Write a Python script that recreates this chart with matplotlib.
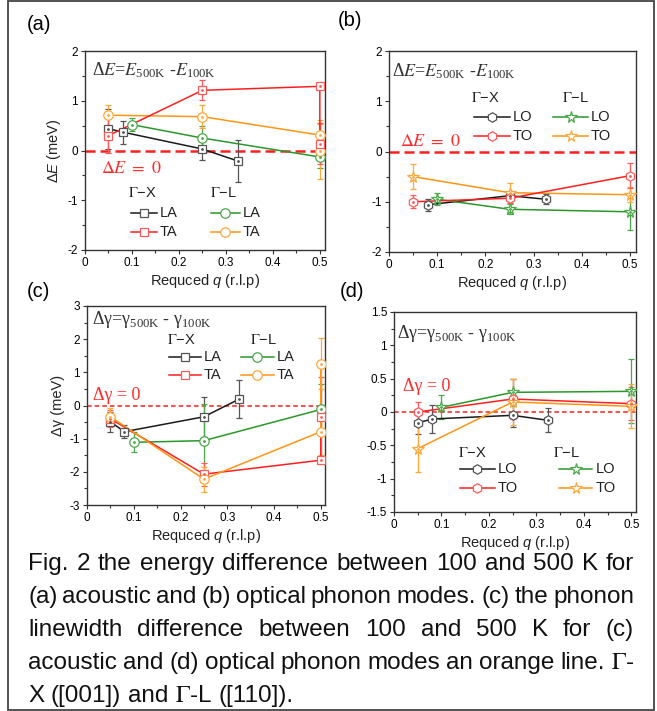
import matplotlib
matplotlib.use("Agg")
import matplotlib.pyplot as plt
from matplotlib.patches import Rectangle
from matplotlib.ticker import MultipleLocator, FormatStrFormatter

plt.rcParams['font.family'] = ['Liberation Sans', 'DejaVu Sans']
plt.rcParams['mathtext.fontset'] = 'custom'
plt.rcParams['mathtext.rm'] = 'Liberation Sans'
plt.rcParams['mathtext.it'] = 'Liberation Sans:italic'
plt.rcParams['axes.unicode_minus'] = False

# ---- data ----
# (a) energy shift, acoustic modes
a_gx_la_q = [0.05, 0.08, 0.25, 0.325]
a_gx_la_v = [0.44, 0.37, 0.03, -0.21]
a_gx_la_e = [0.40, 0.23, 0.22, 0.43]
a_gx_ta_q = [0.05, 0.25, 0.5, 0.5]
a_gx_ta_v = [0.30, 1.21, 1.29, 0.14]
a_gx_ta_e = [0.36, 0.20, 0.05, 0.42]
a_gl_la_q = [0.1, 0.25, 0.5]
a_gl_la_v = [0.52, 0.25, -0.13]
a_gl_la_e = [0.13, 0.25, 0.22]
a_gl_ta_q = [0.05, 0.25, 0.5, 0.5]
a_gl_ta_v = [0.71, 0.68, 0.31, -0.02]
a_gl_ta_e = [0.20, 0.23, 0.30, 0.55]

# (b) energy shift, optical modes
b_gx_lo_q = [0.08, 0.25, 0.325]
b_gx_lo_v = [-1.06, -0.88, -0.95]
b_gx_lo_e = [0.12, 0.10, 0.10]
b_gx_to_q = [0.05, 0.25, 0.5]
b_gx_to_v = [-1.00, -0.93, -0.48]
b_gx_to_e = [0.13, 0.10, 0.25]
b_gl_lo_q = [0.1, 0.25, 0.5]
b_gl_lo_v = [-0.95, -1.15, -1.20]
b_gl_lo_e = [0.12, 0.10, 0.37]
b_gl_to_q = [0.05, 0.25, 0.5]
b_gl_to_v = [-0.50, -0.82, -0.86]
b_gl_to_e = [0.25, 0.20, 0.15]

# (c) linewidth change, acoustic modes
c_gx_la_q = [0.05, 0.08, 0.25, 0.325]
c_gx_la_v = [-0.49, -0.79, -0.34, 0.19]
c_gx_la_e = [0.30, 0.20, 0.60, 0.57]
c_gx_ta_q = [0.05, 0.25, 0.5, 0.5]
c_gx_ta_v = [-0.40, -2.07, -1.65, -0.34]
c_gx_ta_e = [0.25, 0.35, 0.05, 1.20]
c_gl_la_q = [0.1, 0.25, 0.5]
c_gl_la_v = [-1.11, -1.06, -0.12]
c_gl_la_e = [0.30, 1.10, 0.76]
c_gl_ta_q = [0.05, 0.25, 0.5, 0.5]
c_gl_ta_v = [-0.34, -2.22, -0.79, 1.26]
c_gl_ta_e = [0.25, 0.38, 0.70, 0.77]

# (d) linewidth change, optical modes
d_gx_lo_q = [0.05, 0.08, 0.25, 0.325]
d_gx_lo_v = [-0.165, -0.105, -0.05, -0.125]
d_gx_lo_e = [0.17, 0.21, 0.17, 0.18]
d_gx_to_q = [0.05, 0.25, 0.5]
d_gx_to_v = [0.0, 0.195, 0.125]
d_gx_to_e = [0.15, 0.30, 0.25]
d_gl_lo_q = [0.1, 0.25, 0.5]
d_gl_lo_v = [0.07, 0.295, 0.31]
d_gl_lo_e = [0.18, 0.20, 0.48]
d_gl_to_q = [0.05, 0.25, 0.5]
d_gl_to_v = [-0.55, 0.15, 0.085]
d_gl_to_e = [0.35, 0.35, 0.33]

caption = [
    "Fig. 2 the energy difference between 100 and 500 K for",
    "(a) acoustic and (b) optical phonon modes. (c) the phonon",
    "linewidth difference between 100 and 500 K for (c)",
    "acoustic and (d) optical phonon modes an orange line. $\\Gamma$-",
    "X ([001]) and $\\Gamma$-L ([110]).",
]

# colours: (line, marker/errorbar)
BLACK = ('#1a1a1a', '#555555')
RED = ('#ff1f1f', '#ff5a5a')
GREEN = ('#2b962b', '#4aa84a')
ORANGE = ('#ff9515', '#ffa83a')

W, H = 657, 711
fig = plt.figure(figsize=(W / 100, H / 100), dpi=100)


def px_axes(l, t, r, b):
    return fig.add_axes([l / W, 1 - b / H, (r - l) / W, (b - t) / H])


def series(ax, q, v, e, col, marker, ms):
    ax.errorbar(q, v, yerr=e, fmt='none', ecolor=col[1], elinewidth=0.9,
                capsize=2.5, capthick=0.9, zorder=2)
    ax.plot(q, v, '-', color=col[0], lw=1.1, zorder=3)
    ax.plot(q, v, ls='none', marker=marker, ms=ms, mfc='white', mec=col[1],
            mew=0.9, zorder=4)
    ax.plot(q, v, ls='none', marker='o', ms=1.0, color=col[1], zorder=5)


def legend_row(ax, x0, y, col, marker, ms, label, length=0.13):
    ax.plot([x0, x0 + length], [y, y], transform=ax.transAxes, color=col[0],
            lw=1.1, clip_on=False)
    ax.plot([x0 + length / 2], [y], transform=ax.transAxes, marker=marker,
            ms=ms, mfc='white', mec=col[1], mew=0.9, clip_on=False)
    ax.text(x0 + length + 0.012, y, label, transform=ax.transAxes,
            va='center', ha='left', fontsize=10.5, color='#222222')


def style(ax, ylim, ymaj, ymin, xlim):
    ax.set_xlim(*xlim)
    ax.set_ylim(*ylim)
    ax.xaxis.set_major_locator(MultipleLocator(0.1))
    ax.xaxis.set_minor_locator(MultipleLocator(0.05))
    ax.yaxis.set_major_locator(MultipleLocator(ymaj))
    ax.yaxis.set_minor_locator(MultipleLocator(ymin))
    ax.xaxis.set_major_formatter(FormatStrFormatter('%g'))
    ax.yaxis.set_major_formatter(FormatStrFormatter('%g'))
    ax.tick_params(which='both', direction='out', labelsize=8.5,
                   color='#333333', width=0.8, pad=2)
    ax.tick_params(which='major', length=3)
    ax.tick_params(which='minor', length=2)
    for s in ax.spines.values():
        s.set_color('#333333')
        s.set_linewidth(1.0)
    ax.set_xlabel('Requced $\\it{q}$ (r.l.p)', fontsize=10.5, labelpad=2,
                  color='#222222')


def zero_line(ax, lw, dashes):
    ax.axhline(0, color='#ff1f1f', lw=lw, dashes=dashes, zorder=1)


# ---------- (a) ----------
ax = px_axes(85, 51, 325, 250)
style(ax, (-2, 2), 1, 0.5, (0, 0.511))
zero_line(ax, 1.8, (4, 2))
series(ax, a_gx_la_q, a_gx_la_v, a_gx_la_e, BLACK, 's', 5.5)
series(ax, a_gl_la_q, a_gl_la_v, a_gl_la_e, GREEN, 'o', 6.8)
series(ax, a_gl_ta_q, a_gl_ta_v, a_gl_ta_e, ORANGE, 'o', 6.8)
series(ax, a_gx_ta_q, a_gx_ta_v, a_gx_ta_e, RED, 's', 5.5)
ax.set_ylabel('Δ$\\it{E}$ (meV)', fontsize=10.5, labelpad=3, color='#222222')
ax.text(0.03, 0.905, 'Δ$E$=$E_{\\mathregular{500K}}$ -$E_{\\mathregular{100K}}$',
        transform=ax.transAxes, fontsize=13, family='Liberation Serif',
        math_fontfamily='stix', va='center', color='#333333')
ax.text(0.065, 0.41, '$\\Delta E\\ =\\ 0$', transform=ax.transAxes,
        fontsize=13, math_fontfamily='stix', va='center', color='#ff2a2a')
ax.text(0.18, 0.286, '$\\Gamma$−X', transform=ax.transAxes, fontsize=10.5,
        math_fontfamily='stix', va='center', color='#222222')
ax.text(0.52, 0.286, '$\\Gamma$−L', transform=ax.transAxes, fontsize=10.5,
        math_fontfamily='stix', va='center', color='#222222')
legend_row(ax, 0.19, 0.186, BLACK, 's', 5.5, 'LA', 0.11)
legend_row(ax, 0.19, 0.09, RED, 's', 5.5, 'TA', 0.11)
legend_row(ax, 0.525, 0.186, GREEN, 'o', 6.8, 'LA', 0.12)
legend_row(ax, 0.525, 0.09, ORANGE, 'o', 6.8, 'TA', 0.12)

# ---------- (b) ----------
ax = px_axes(389, 51, 636, 252)
style(ax, (-2, 2), 1, 0.5, (0, 0.512))
zero_line(ax, 1.8, (4, 2))
series(ax, b_gx_lo_q, b_gx_lo_v, b_gx_lo_e, BLACK, 'h', 6.8)
series(ax, b_gl_lo_q, b_gl_lo_v, b_gl_lo_e, GREEN, '*', 8.5)
series(ax, b_gl_to_q, b_gl_to_v, b_gl_to_e, ORANGE, '*', 8.5)
series(ax, b_gx_to_q, b_gx_to_v, b_gx_to_e, RED, 'h', 6.8)
ax.text(0.012, 0.90, 'Δ$E$=$E_{\\mathregular{500K}}$ -$E_{\\mathregular{100K}}$',
        transform=ax.transAxes, fontsize=13, family='Liberation Serif',
        math_fontfamily='stix', va='center', color='#333333')
ax.text(0.045, 0.55, '$\\Delta E\\ =\\ 0$', transform=ax.transAxes,
        fontsize=13, math_fontfamily='stix', va='center', color='#ff2a2a')
ax.text(0.33, 0.766, '$\\Gamma$−X', transform=ax.transAxes, fontsize=10.5,
        math_fontfamily='stix', va='center', color='#222222')
ax.text(0.70, 0.766, '$\\Gamma$−L', transform=ax.transAxes, fontsize=10.5,
        math_fontfamily='stix', va='center', color='#222222')
legend_row(ax, 0.345, 0.67, BLACK, 'h', 6.8, 'LO', 0.145)
legend_row(ax, 0.345, 0.577, RED, 'h', 6.8, 'TO', 0.145)
legend_row(ax, 0.665, 0.67, GREEN, '*', 8.5, 'LO', 0.14)
legend_row(ax, 0.665, 0.577, ORANGE, '*', 8.5, 'TO', 0.14)

# ---------- (c) ----------
ax = px_axes(87, 306, 325, 505)
style(ax, (-3, 3), 1, 0.5, (0, 0.509))
zero_line(ax, 1.1, (3, 2))
series(ax, c_gx_la_q, c_gx_la_v, c_gx_la_e, BLACK, 's', 5.5)
series(ax, c_gl_la_q, c_gl_la_v, c_gl_la_e, GREEN, 'o', 6.8)
series(ax, c_gx_ta_q, c_gx_ta_v, c_gx_ta_e, RED, 's', 5.5)
series(ax, c_gl_ta_q, c_gl_ta_v, c_gl_ta_e, ORANGE, 'o', 6.8)
ax.set_ylabel('Δγ (meV)', fontsize=10.5, labelpad=3, color='#222222')
ax.text(0.02, 0.93, 'Δγ=γ$_{\\mathregular{500K}}$ - γ$_{\\mathregular{100K}}$',
        transform=ax.transAxes, fontsize=13, family='Liberation Serif',
        va='center', color='#333333')
ax.text(0.025, 0.55, 'Δγ = 0', transform=ax.transAxes, fontsize=13,
        family='Liberation Serif', va='center', color='#ff2a2a')
ax.text(0.335, 0.83, '$\\Gamma$−X', transform=ax.transAxes, fontsize=10.5,
        math_fontfamily='stix', va='center', color='#222222')
ax.text(0.685, 0.83, '$\\Gamma$−L', transform=ax.transAxes, fontsize=10.5,
        math_fontfamily='stix', va='center', color='#222222')
legend_row(ax, 0.345, 0.744, BLACK, 's', 5.5, 'LA', 0.135)
legend_row(ax, 0.345, 0.653, RED, 's', 5.5, 'TA', 0.135)
legend_row(ax, 0.645, 0.744, GREEN, 'o', 6.8, 'LA', 0.14)
legend_row(ax, 0.645, 0.653, ORANGE, 'o', 6.8, 'TA', 0.14)

# ---------- (d) ----------
ax = px_axes(394, 312, 636, 512)
style(ax, (-1.5, 1.5), 0.5, 0.25, (0, 0.51))
zero_line(ax, 1.1, (3, 2))
series(ax, d_gx_lo_q, d_gx_lo_v, d_gx_lo_e, BLACK, 'h', 6.8)
series(ax, d_gl_lo_q, d_gl_lo_v, d_gl_lo_e, GREEN, '*', 8.5)
series(ax, d_gx_to_q, d_gx_to_v, d_gx_to_e, RED, 'h', 6.8)
series(ax, d_gl_to_q, d_gl_to_v, d_gl_to_e, ORANGE, '*', 8.5)
ax.text(0.012, 0.895, 'Δγ=γ$_{\\mathregular{500K}}$ - γ$_{\\mathregular{100K}}$',
        transform=ax.transAxes, fontsize=13, family='Liberation Serif',
        va='center', color='#333333')
ax.text(0.037, 0.627, 'Δγ = 0', transform=ax.transAxes, fontsize=13,
        family='Liberation Serif', va='center', color='#ff2a2a')
ax.text(0.265, 0.295, '$\\Gamma$−X', transform=ax.transAxes, fontsize=10.5,
        math_fontfamily='stix', va='center', color='#222222')
ax.text(0.655, 0.295, '$\\Gamma$−L', transform=ax.transAxes, fontsize=10.5,
        math_fontfamily='stix', va='center', color='#222222')
legend_row(ax, 0.272, 0.215, BLACK, 'h', 6.8, 'LO', 0.145)
legend_row(ax, 0.272, 0.12, RED, 'h', 6.8, 'TO', 0.145)
legend_row(ax, 0.68, 0.215, GREEN, '*', 8.5, 'LO', 0.14)
legend_row(ax, 0.68, 0.12, ORANGE, '*', 8.5, 'TO', 0.14)

# panel letters
for lab, x, y in [('(a)', 27, 24), ('(b)', 338, 21), ('(c)', 27, 292), ('(d)', 340, 292)]:
    fig.text(x / W, 1 - y / H, lab, fontsize=14.5, va='center', ha='left')

# caption, justified between two margins
renderer = fig.canvas.get_renderer()
left, right = 28, 634
baselines = [570, 603, 636, 669, 702]
cap_kw = dict(fontsize=17.5, va='baseline', ha='left', math_fontfamily='stix',
              color='#111111')
probe = fig.text(0, 0, 'a a', **cap_kw)
probe2 = fig.text(0, 0, 'aa', **cap_kw)
space_px = (probe.get_window_extent(renderer).width -
            probe2.get_window_extent(renderer).width)
probe.remove()
probe2.remove()
for i, (line, yb) in enumerate(zip(caption, baselines)):
    words = line.split(' ')
    texts = [fig.text(0, 1 - yb / H, w, **cap_kw) for w in words]
    widths = [t.get_window_extent(renderer).width for t in texts]
    if i < len(caption) - 1:
        gap = (right - left - sum(widths)) / (len(words) - 1)
    else:
        gap = space_px
    x = left
    for t, w in zip(texts, widths):
        t.set_x(x / W)
        x += w + gap

# outer frame
fig.add_artist(Rectangle((8 / W, 1 - 710 / H), (654 - 8) / W, 709 / H,
                         transform=fig.transFigure, fill=False,
                         ec='#444444', lw=1.3))

fig.savefig('out.png', dpi=100)
